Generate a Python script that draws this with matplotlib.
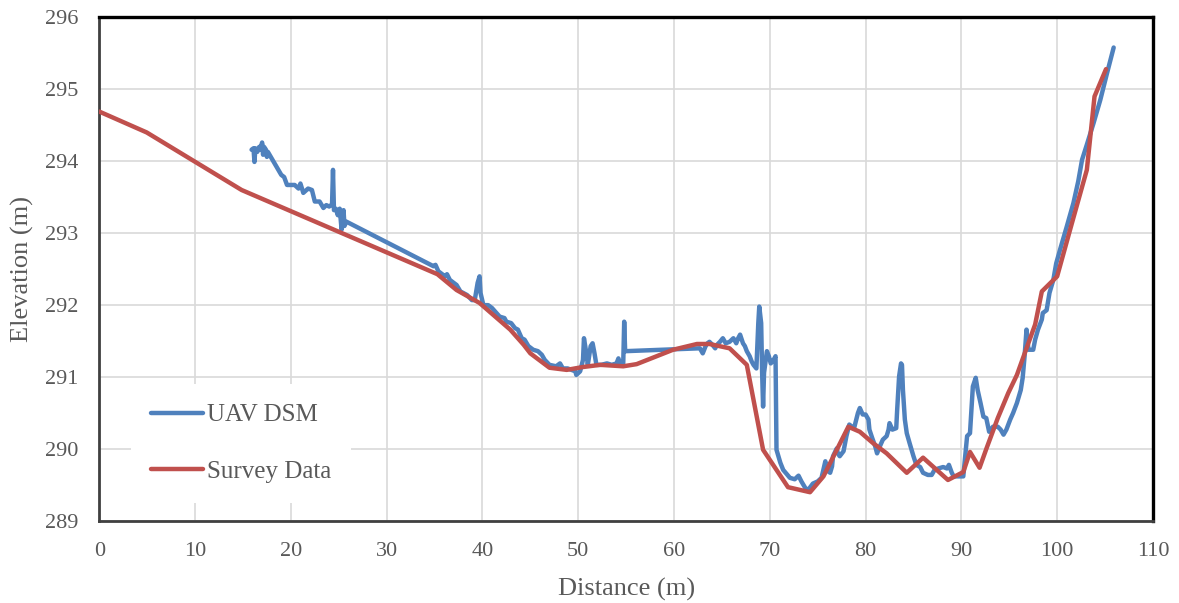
import matplotlib
matplotlib.use("Agg")
import matplotlib.pyplot as plt

# UAV DSM profile (distance m, elevation m)
uav_x = [15.9, 16.1, 16.2, 16.3, 16.5, 16.7, 16.8, 17.0, 17.1, 17.2, 17.4, 17.5, 17.6,
         19.0, 19.3, 19.6, 20.4, 20.8, 21.0, 21.3, 21.8, 22.2, 22.5, 23.0, 23.4, 23.7,
         24.0, 24.3, 24.4, 24.5, 24.7, 24.9, 25.1, 25.3, 25.5, 25.6, 25.8,
         34.9, 35.1, 35.4, 36.1, 36.3, 36.6, 37.0, 37.3, 37.7, 38.4, 38.9, 39.2, 39.5,
         39.7, 39.8, 40.1, 40.6, 41.0, 41.8, 42.3, 42.5, 43.0, 43.4, 43.7, 44.1, 44.4,
         44.8, 45.3, 45.8, 46.2, 46.5, 47.0, 47.7, 48.1, 48.4, 48.9, 49.3, 49.7, 49.8,
         50.2, 50.5, 50.6, 50.9, 51.0, 51.3, 51.5, 51.7, 51.9, 52.4, 53.0, 53.5, 54.0,
         54.2, 54.4, 54.7, 54.8, 54.9,
         62.7, 63.0, 63.3, 63.5, 63.7, 64.0, 64.3, 64.5, 64.8, 65.1, 65.4, 65.8, 66.2,
         66.5, 66.7, 66.9, 67.2, 67.4, 67.6, 67.9, 68.1, 68.3, 68.6, 68.8, 68.9, 69.1,
         69.2, 69.3, 69.4, 69.7, 69.9, 70.1, 70.4, 70.6, 70.7, 71.1, 71.4, 72.1, 72.6,
         73.0, 73.3, 73.7, 74.0, 74.5, 75.0, 75.4, 75.8, 75.9, 76.3, 76.5, 76.6, 77.0,
         77.1, 77.3, 77.7, 78.0, 78.3, 78.6, 78.8, 79.2, 79.4, 79.7, 80.0, 80.3, 80.4,
         80.7, 81.0, 81.2, 81.5, 81.8, 82.2, 82.4, 82.5, 82.8, 83.2, 83.3, 83.5, 83.7,
         83.8, 83.9, 84.1, 84.3, 84.6, 85.0, 85.3, 85.7, 86.0, 86.5, 86.9, 87.2, 87.6,
         88.1, 88.5, 88.7, 89.0, 89.2, 89.7, 90.2, 90.4, 90.6, 90.9, 91.2, 91.5, 91.7,
         92.0, 92.3, 92.6, 92.9, 93.3, 93.8, 94.1, 94.4, 94.7, 95.1, 95.4, 95.8, 96.2,
         96.4, 96.6, 96.8, 97.0, 97.5, 97.7, 98.0, 98.4, 98.5, 98.9, 99.2, 99.6, 99.9,
         100.3, 101.0, 101.7, 102.2, 102.6, 103.1, 103.8, 104.5, 105.2, 105.9]
uav_y = [294.16, 294.18, 293.99, 294.18, 294.13, 294.20, 294.16, 294.26, 294.09, 294.20,
         294.16, 294.06, 294.13,
         293.81, 293.78, 293.67, 293.67, 293.62, 293.69, 293.56, 293.62, 293.60, 293.44,
         293.44, 293.35, 293.39, 293.37, 293.40, 293.88, 293.32, 293.34, 293.25, 293.34,
         293.05, 293.32, 293.10, 293.16,
         292.54, 292.56, 292.47, 292.40, 292.43, 292.35, 292.31, 292.28, 292.19, 292.14,
         292.07, 292.07, 292.31, 292.40, 292.17, 292.00, 292.00, 291.96, 291.84, 291.82,
         291.77, 291.75, 291.68, 291.66, 291.54, 291.52, 291.43, 291.38, 291.36, 291.31,
         291.24, 291.17, 291.15, 291.19, 291.12, 291.12, 291.10, 291.08, 291.03, 291.08,
         291.24, 291.54, 291.29, 291.17, 291.43, 291.47, 291.33, 291.17, 291.17, 291.19,
         291.17, 291.19, 291.26, 291.17, 291.19, 291.77, 291.36,
         291.40, 291.33, 291.43, 291.47, 291.49, 291.45, 291.40, 291.45, 291.49, 291.54,
         291.47, 291.49, 291.54, 291.47, 291.54, 291.59, 291.47, 291.43, 291.36, 291.29,
         291.22, 291.17, 291.12, 291.75, 291.98, 291.75, 291.06, 290.59, 291.06, 291.36,
         291.29, 291.19, 291.24, 291.29, 289.99, 289.81, 289.71, 289.60, 289.58, 289.63,
         289.55, 289.46, 289.43, 289.52, 289.55, 289.60, 289.83, 289.71, 289.67, 289.76,
         289.90, 290.01, 289.94, 289.90, 289.97, 290.18, 290.34, 290.31, 290.29, 290.50,
         290.57, 290.48, 290.48, 290.41, 290.27, 290.15, 290.04, 289.94, 290.04, 290.13,
         290.18, 290.27, 290.36, 290.27, 290.29, 290.55, 291.01, 291.19, 291.17, 290.82,
         290.41, 290.22, 290.08, 289.90, 289.78, 289.75, 289.67, 289.64, 289.64, 289.71,
         289.73, 289.75, 289.73, 289.78, 289.67, 289.62, 289.62, 289.62, 289.90, 290.18,
         290.22, 290.87, 290.99, 290.82, 290.64, 290.45, 290.43, 290.24, 290.31, 290.31,
         290.27, 290.20, 290.27, 290.41, 290.50, 290.64, 290.82, 290.99, 291.29, 291.66,
         291.38, 291.38, 291.52, 291.66, 291.80, 291.89, 291.93, 292.17, 292.35, 292.58,
         292.77, 293.09, 293.42, 293.72, 294.02, 294.23, 294.53, 294.85, 295.22, 295.58]

# Survey data
survey_x = [0, 4.95, 14.86, 35.3, 37.3, 39.7, 42.9, 44.3, 45.0, 47.0, 48.8, 50.5, 52.3,
            54.7, 56.1, 59.9, 62.4, 63.7, 65.8, 67.6, 69.3, 71.9, 74.2, 75.6, 78.2,
            79.4, 80.8, 82.2, 84.3, 86.0, 88.6, 90.2, 90.9, 91.9, 92.6, 93.8, 94.9,
            95.8, 96.8, 97.7, 98.4, 100.0, 101.5, 103.1, 103.9, 105.1]
survey_y = [294.69, 294.40, 293.60, 292.43, 292.21, 292.03, 291.66, 291.45, 291.33,
            291.13, 291.10, 291.14, 291.17, 291.15, 291.18, 291.38, 291.46, 291.46,
            291.40, 291.17, 289.99, 289.47, 289.40, 289.62, 290.31, 290.24, 290.08,
            289.94, 289.67, 289.88, 289.57, 289.68, 289.96, 289.74, 290.00, 290.43,
            290.78, 291.03, 291.40, 291.73, 292.19, 292.40, 293.12, 293.88, 294.90,
            295.28]

text_color = "#595959"
plt.rcParams["font.family"] = ["Liberation Serif", "DejaVu Serif"]

fig = plt.figure(figsize=(11.79, 6.03), dpi=100)
ax = fig.add_axes([0.0842, 0.136, 0.8937, 0.8353])

ax.plot(uav_x, uav_y, color="#4F81BD", lw=3.2, label="UAV DSM",
        solid_joinstyle="round", solid_capstyle="round", zorder=3)
ax.plot(survey_x, survey_y, color="#C0504D", lw=3.2, label="Survey Data",
        solid_joinstyle="round", solid_capstyle="round", zorder=3)

ax.set_xlim(0, 110)
ax.set_ylim(289, 296)
ax.set_xticks(range(0, 111, 10))
ax.set_yticks(range(289, 297))
ax.grid(True, color="#D9D9D9", lw=1.2, zorder=0)
ax.set_axisbelow(True)
ax.tick_params(length=0, labelsize=16, labelcolor=text_color, pad=15)

ax.set_xlabel("Distance (m)", fontsize=19, color=text_color, labelpad=12)
ax.set_ylabel("Elevation (m)", fontsize=19, color=text_color, labelpad=8)

for side in ("top", "right"):
    ax.spines[side].set_color("black")
    ax.spines[side].set_linewidth(2.4)
for side in ("left", "bottom"):
    ax.spines[side].set_color("#404040")
    ax.spines[side].set_linewidth(2.0)

leg = ax.legend(loc="upper left", bbox_to_anchor=(0.03, 0.272), borderaxespad=0,
                fontsize=18, frameon=True, fancybox=False, handlelength=2.1,
                labelspacing=1.35, borderpad=0.8, handletextpad=0.15)
leg.get_frame().set_facecolor("white")
leg.get_frame().set_edgecolor("none")
leg.get_frame().set_alpha(1.0)
for t in leg.get_texts():
    t.set_color(text_color)

fig.savefig("out.png", dpi=100)
